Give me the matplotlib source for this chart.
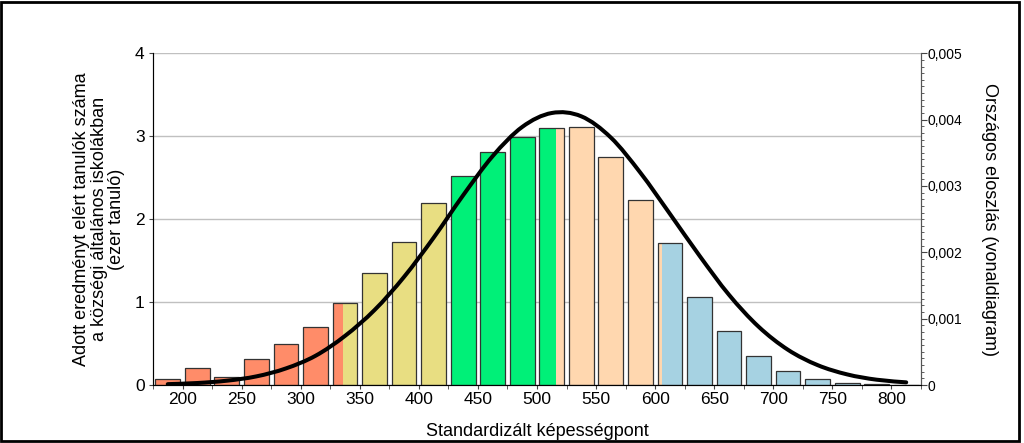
import matplotlib
matplotlib.use('Agg')
import matplotlib.pyplot as plt
import numpy as np
from matplotlib.path import Path
from matplotlib.patches import PathPatch, Rectangle
from matplotlib.ticker import FuncFormatter, MultipleLocator

plt.rcParams['font.family'] = ['Liberation Sans', 'DejaVu Sans']

# Data
bin_centers = [187.5, 212.5, 237.5, 262.5, 287.5, 312.5, 337.5, 362.5, 387.5,
               412.5, 437.5, 462.5, 487.5, 512.5, 537.5, 562.5, 587.5, 612.5,
               637.5, 662.5, 687.5, 712.5, 737.5, 762.5, 787.5, 812.5]
students = [0.068, 0.21, 0.093, 0.317, 0.495, 0.70, 0.99, 1.347, 1.72,
            2.20, 2.52, 2.81, 2.99, 3.10, 3.11, 2.75, 2.235, 1.71,
            1.06, 0.655, 0.346, 0.169, 0.068, 0.02, 0.008, 0.003]
national = [0.000013, 0.00003, 0.000065, 0.00013, 0.00025, 0.00044,
            0.00074, 0.00113, 0.00163, 0.00222, 0.00286, 0.00345,
            0.00389, 0.00410, 0.00405, 0.00373, 0.00320, 0.00258,
            0.00195, 0.00136, 0.00088, 0.00053, 0.00030, 0.00016,
            0.00008, 0.00004]
level_edges = [175, 336, 426, 516, 606, 825]
level_colors = ['#FF8C69', '#E8DE82', '#00F078', '#FFD7AF', '#A6D2E2']

bar_width = 21


def smooth_path(xs, ys):
    # Catmull-Rom through the points, drawn as cubic Bezier segments
    n = len(xs)
    verts = [(xs[0], ys[0])]
    codes = [Path.MOVETO]
    for i in range(n - 1):
        p0 = max(i - 1, 0)
        p3 = min(i + 2, n - 1)
        c1 = (xs[i] + (xs[i + 1] - xs[p0]) / 6, ys[i] + (ys[i + 1] - ys[p0]) / 6)
        c2 = (xs[i + 1] - (xs[p3] - xs[i]) / 6, ys[i + 1] - (ys[p3] - ys[i]) / 6)
        verts += [c1, c2, (xs[i + 1], ys[i + 1])]
        codes += [Path.CURVE4] * 3
    return Path(verts, codes)


fig = plt.figure(figsize=(10.24, 4.43), dpi=100)
ax = fig.add_axes([0.1494, 0.1309, 0.75, 0.7488])

# colored parts of each bar, split at the level boundaries
for c, h in zip(bin_centers, students):
    a, b = c - bar_width / 2, c + bar_width / 2
    for lo, hi, col in zip(level_edges[:-1], level_edges[1:], level_colors):
        left, right = max(a, lo), min(b, hi)
        if right > left:
            ax.bar(left, h, width=right - left, align='edge', color=col,
                   linewidth=0, zorder=2)
ax.bar(bin_centers, students, width=bar_width, fill=False,
       edgecolor='#333333', linewidth=0.9, zorder=3)

ax.set_xlim(175, 825)
ax.set_ylim(0, 4)
ax.xaxis.set_major_locator(MultipleLocator(50))
ax.xaxis.set_minor_locator(MultipleLocator(25))
ax.yaxis.set_major_locator(MultipleLocator(1))
ax.grid(True, axis='y', color='#C0C0C0', linewidth=1)
ax.set_axisbelow(True)
ax.tick_params(axis='x', which='both', length=3, color='#444444', labelsize=12.5, pad=2)
ax.tick_params(axis='y', length=3, color='#444444', labelsize=12.5, pad=3)
ax.spines['top'].set_visible(False)
for s in ['left', 'right', 'bottom']:
    ax.spines[s].set_color('#555555')

ax.set_xlabel('Standardizált képességpont', fontsize=13)
ax.xaxis.set_label_coords(0.5, -0.116)
ax.set_ylabel('Adott eredményt elért tanulók száma\na községi általános iskolákban\n(ezer tanuló)',
              fontsize=13, linespacing=1.05)
ax.yaxis.set_label_coords(-0.036, 0.5)

# national distribution line on the right axis
ax2 = ax.twinx()
ax2.set_ylim(0, 0.005)
ax2.yaxis.set_major_locator(MultipleLocator(0.001))
ax2.yaxis.set_minor_locator(MultipleLocator(0.0001))
ax2.yaxis.set_major_formatter(FuncFormatter(
    lambda v, p: '0' if abs(v) < 1e-9 else f'{v:.3f}'.replace('.', ',')))
ax2.tick_params(axis='y', which='major', length=4, color='#444444', labelsize=10, pad=1)
ax2.tick_params(axis='y', which='minor', length=2, color='#444444')
ax2.spines['top'].set_visible(False)
ax2.spines['right'].set_color('#555555')
ax2.add_patch(PathPatch(smooth_path(bin_centers, national), fill=False,
                        edgecolor='black', linewidth=2.9, capstyle='round', zorder=5))
ax2.set_ylabel('Országos eloszlás (vonaldiagram)', fontsize=13, rotation=-90)
ax2.yaxis.set_label_coords(1.100, 0.5)

# frame around the picture
fig.patches.append(Rectangle((0.001, 0.004), 0.994, 0.992, transform=fig.transFigure,
                             fill=False, edgecolor='black', linewidth=2))

fig.savefig('out.png', dpi=100, facecolor='white')
